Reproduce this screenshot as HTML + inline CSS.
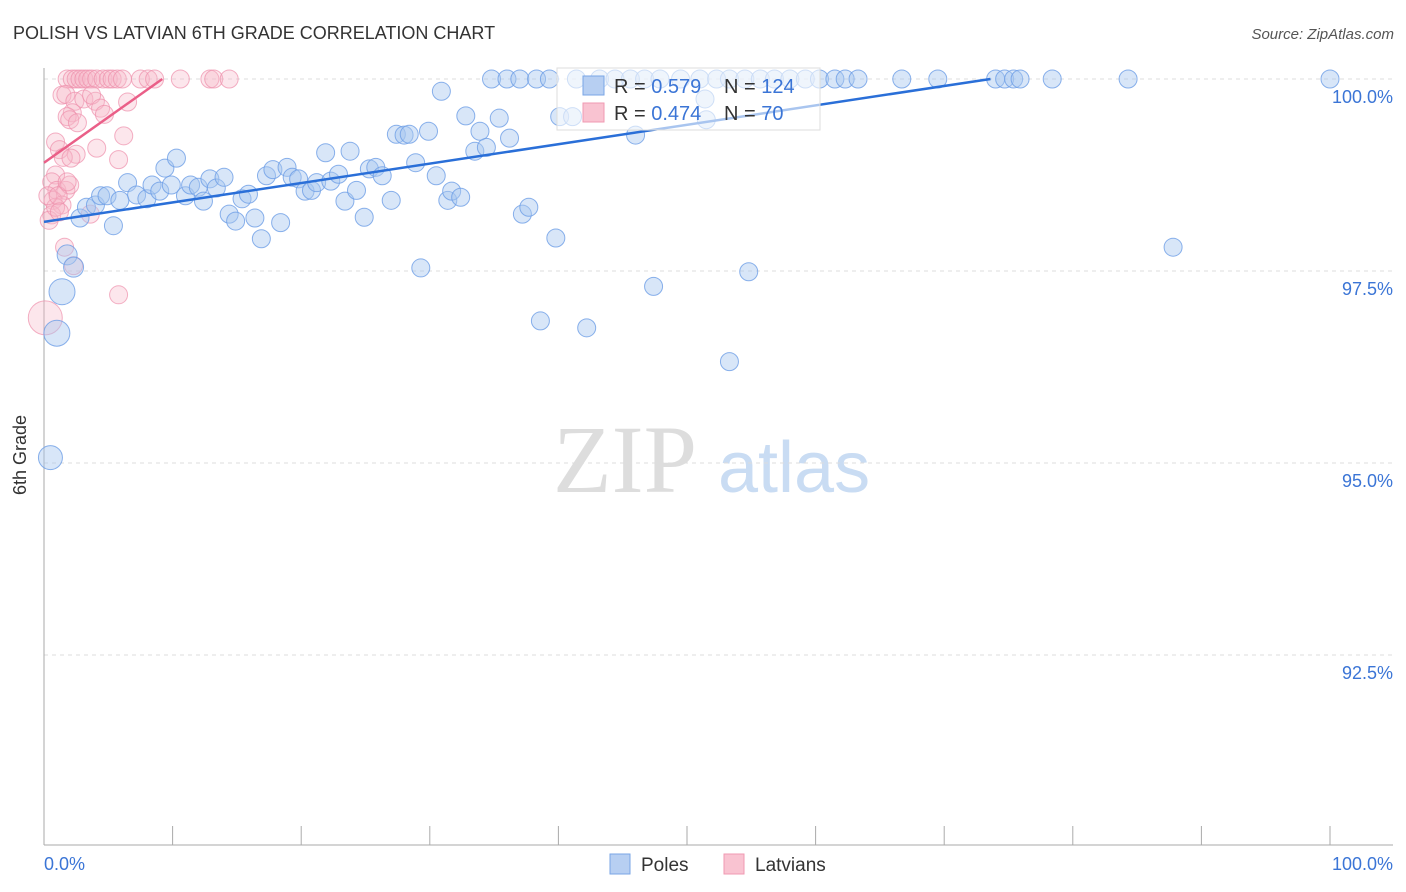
<!DOCTYPE html>
<html><head><meta charset="utf-8"><style>
body{margin:0;background:#fff;font-family:"Liberation Sans",sans-serif;}
svg{display:block}
</style></head><body>
<svg id="chart" width="1406" height="892">
<text x="13" y="39" font-size="18" fill="#333">POLISH VS LATVIAN 6TH GRADE CORRELATION CHART</text>
<text x="1394" y="39" font-size="15" fill="#555" text-anchor="end" font-style="italic">Source: ZipAtlas.com</text>
<g>
<text x="553" y="492" font-size="96" fill="#ddd" font-family="Liberation Serif,serif">ZIP</text>
<text x="718" y="492" font-size="72" fill="#c9dcf3">atlas</text>
</g>
<g id="grid"></g>
<g id="axes"></g>
<g id="pts"></g>
<g id="trend"></g>
<g>
<rect x="557" y="68" width="263" height="62" fill="#fff" fill-opacity="0.6" stroke="#ddd"/>
<rect x="583" y="76" width="21" height="19" fill="#b7cff2" stroke="#7aa6e6"/>
<rect x="583" y="103" width="21" height="19" fill="#f9c3d1" stroke="#f09ab2"/>
<text x="614" y="93" font-size="20" fill="#333">R = <tspan fill="#3b75d6">0.579</tspan></text>
<text x="724" y="93" font-size="20" fill="#333">N = <tspan fill="#3b75d6">124</tspan></text>
<text x="614" y="120" font-size="20" fill="#333">R = <tspan fill="#3b75d6">0.474</tspan></text>
<text x="724" y="120" font-size="20" fill="#333">N = <tspan fill="#3b75d6"> 70</tspan></text>
</g>
<g>
<rect x="610" y="854" width="20" height="20" fill="#b7cff2" stroke="#7aa6e6"/>
<text x="641" y="871" font-size="19" fill="#333">Poles</text>
<rect x="724" y="854" width="20" height="20" fill="#f9c3d1" stroke="#f09ab2"/>
<text x="755" y="871" font-size="19" fill="#333">Latvians</text>
</g>
<text x="26" y="455" font-size="18" fill="#333" transform="rotate(-90 26 455)" text-anchor="middle">6th Grade</text>
</svg>
<script>
const yTicks=[100,97.5,95,92.5];
const yTickLabels=["100.0%","97.5%","95.0%","92.5%"];
const xLabels=["0.0%","100.0%"];
const polesX=[1.4,1.0,0.5,1.8,2.3,2.8,3.3,4.0,4.4,5.4,4.9,5.9,6.5,7.2,8.0,8.4,9.0,9.4,9.9,10.3,11.0,11.4,12.0,12.4,12.9,13.4,14.0,14.4,14.9,15.4,15.9,16.4,16.9,17.3,17.8,18.4,18.9,19.3,19.8,20.3,20.8,21.2,21.9,22.3,22.9,23.4,23.8,24.3,24.9,25.3,25.8,26.3,27.0,27.4,28.0,28.4,28.9,29.3,29.9,30.5,30.9,31.4,31.7,32.4,32.8,33.5,33.9,34.4,35.4,36.2,37.2,37.7,38.6,39.8,42.2,46.0,47.4,53.3,54.8,87.8,40.1,41.1,51.5,51.4,
34.8,36.0,37.0,38.3,39.3,41.4,43.2,44.4,45.6,46.7,47.9,49.5,51.0,52.3,53.3,54.5,55.7,56.8,58.0,59.2,60.3,61.5,62.3,63.3,66.7,69.5,74.0,74.7,75.4,75.9,78.4,84.3,100.0];
const polesY=[97.23,96.69,95.07,97.71,97.55,98.19,98.33,98.36,98.48,98.09,98.48,98.42,98.65,98.49,98.44,98.62,98.54,98.84,98.62,98.97,98.48,98.62,98.59,98.41,98.70,98.58,98.72,98.24,98.15,98.44,98.50,98.19,97.92,98.74,98.82,98.13,98.85,98.72,98.70,98.54,98.55,98.65,99.04,98.67,98.76,98.41,99.06,98.55,98.20,98.83,98.85,98.74,98.42,99.28,99.27,99.28,98.91,97.54,99.32,98.74,99.84,98.42,98.54,98.46,99.52,99.06,99.32,99.11,99.49,99.23,98.24,98.33,96.85,97.93,96.76,99.27,97.30,96.32,97.49,97.81,99.51,99.51,99.47,99.74,
100,100,100,100,100,100,100,100,100,100,100,100,100,100,100,100,100,100,100,100,100,100,100,100,100,100,100,100,100,100,100,100,100];
const polesR=[13,13,12,10,10];
const latX=[1.8,2.2,2.5,2.8,3.1,3.4,3.7,4.1,4.6,5.0,5.3,5.7,6.1,7.5,8.1,8.6,10.6,12.9,13.2,14.4,
1.4,1.7,2.4,2.2,3.1,4.0,3.7,4.4,4.7,6.5,6.2,1.8,2.0,2.6,2.5,4.1,0.9,1.2,1.5,2.1,5.8,0.9,0.6,1.0,1.7,0.7,1.4,2.0,3.6,0.6,0.4,0.9,1.6,2.3,5.8,0.1,0.3,1.1,1.8,1.2];
const latY=[100,100,100,100,100,100,100,100,100,100,100,100,100,100,100,100,100,100,100,100,
99.79,99.80,99.71,99.56,99.74,99.71,99.79,99.62,99.54,99.70,99.26,99.51,99.47,99.43,99.02,99.10,99.18,99.08,98.98,98.97,98.95,98.75,98.66,98.55,98.55,98.42,98.36,98.62,98.24,98.23,98.16,98.33,97.81,97.57,97.19,96.89,98.48,98.48,98.66,98.27];
const polesTrend=[[0,98.14],[73.6,100]];
const latTrend=[[0,98.91],[9.2,100]];

const NS="http://www.w3.org/2000/svg";
const sx=v=>44+v*12.86;
const sy=v=>79+(100-v)*76.8;
function mk(tag,attrs,parent){const e=document.createElementNS(NS,tag);for(const k in attrs)e.setAttribute(k,attrs[k]);document.getElementById(parent).appendChild(e);return e;}
yTicks.forEach((t,i)=>{
  const l=mk('line',{x1:44,x2:1393,y1:sy(t),y2:sy(t),stroke:'#ddd','stroke-dasharray':'4,4'},'grid');
  
  
  const tx=mk('text',{x:1393,y:sy(t)+24,'font-size':18,fill:'#3b75d6','text-anchor':'end'},'axes');
  tx.textContent=yTickLabels[i];
  
  
});
const ax=mk('line',{x1:44,x2:44,y1:68,y2:845,stroke:'#aaa'},'axes');


const bx=mk('line',{x1:44,x2:1393,y1:845,y2:845,stroke:'#aaa'},'axes');


for(let i=0;i<=10;i++){
  const tk=mk('line',{x1:sx(i*10),x2:sx(i*10),y1:826,y2:845,stroke:'#aaa'},'axes');
  
  
}
const xl0=mk('text',{x:44,y:870,'font-size':18,fill:'#3b75d6'},'axes');xl0.textContent=xLabels[0];


const xl1=mk('text',{x:1393,y:870,'font-size':18,fill:'#3b75d6','text-anchor':'end'},'axes');xl1.textContent=xLabels[1];


latX.forEach((x,i)=>{
  const r=(i===latX.length-5)?17:9;
  const c=mk('circle',{cx:sx(x),cy:sy(latY[i]),r:r,fill:'#f7b6c8','fill-opacity':0.35,stroke:'#ee8fab','stroke-opacity':0.7},'pts');
  
  
});
polesX.forEach((x,i)=>{
  const c=mk('circle',{cx:sx(x),cy:sy(polesY[i]),r:polesR[i]||9,fill:'#a9c8f0','fill-opacity':0.45,stroke:'#6d9ee6','stroke-opacity':0.8},'pts');
  
  
});
const t1=mk('line',{x1:sx(polesTrend[0][0]),y1:sy(polesTrend[0][1]),x2:sx(polesTrend[1][0]),y2:sy(polesTrend[1][1]),stroke:'#2a6fd8','stroke-width':2.5},'trend');


const t2=mk('line',{x1:sx(latTrend[0][0]),y1:sy(latTrend[0][1]),x2:sx(latTrend[1][0]),y2:sy(latTrend[1][1]),stroke:'#ea5f88','stroke-width':2.5},'trend');


</script>
</body></html>
